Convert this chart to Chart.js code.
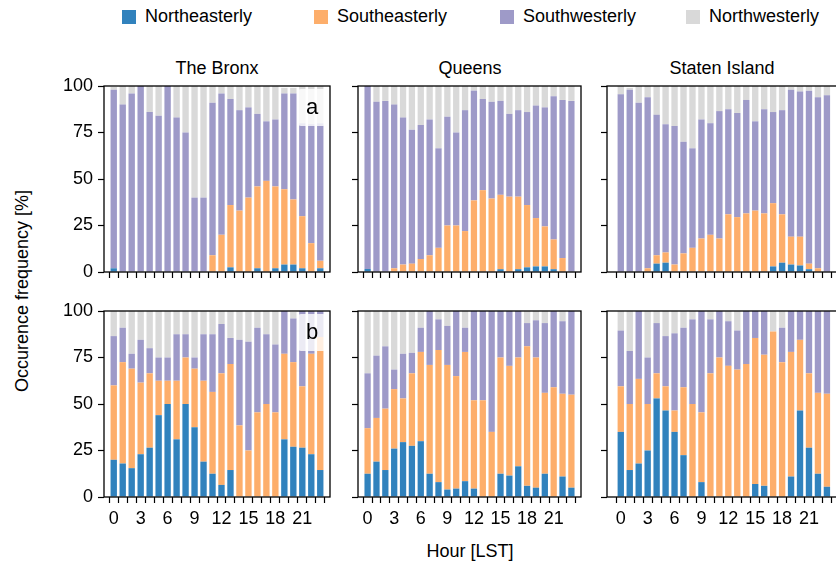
<!DOCTYPE html>
<html>
<head>
<meta charset="utf-8">
<script src="https://cdn.jsdelivr.net/npm/chart.js@4"></script>
<style>
  html, body { margin: 0; padding: 0; background: #fff; overflow: hidden; }
  #wrap { position: relative; width: 836px; height: 571px; overflow: hidden;
          font-family: "Liberation Sans", Arial, sans-serif; font-size: 18px; color: #000; }
  #wrap canvas { position: absolute; }
  .leg { position: absolute; top: 6px; display: flex; align-items: center; white-space: nowrap; }
  .sw { display: inline-block; width: 14px; height: 14px; margin-right: 9px; }
  .ttl { position: absolute; top: 58px; transform: translateX(-50%); white-space: nowrap; }
  .tag { position: absolute; width: 28px; height: 37px; background: rgba(255,255,255,0.8);
         border-radius: 3px; font-size: 22px; line-height: 36px; text-align: center; z-index: 2; }
</style>
</head>
<body>
<div id="wrap">
  <div class="leg" style="left:122px"><span class="sw" style="background:#3182bd"></span>Northeasterly</div>
  <div class="leg" style="left:314px"><span class="sw" style="background:#fdae6b"></span>Southeasterly</div>
  <div class="leg" style="left:500px"><span class="sw" style="background:#9e9ac8"></span>Southwesterly</div>
  <div class="leg" style="left:686px"><span class="sw" style="background:#d9d9d9"></span>Northwesterly</div>

  <div class="ttl" style="left:217px">The Bronx</div>
  <div class="ttl" style="left:470px">Queens</div>
  <div class="ttl" style="left:722px">Staten Island</div>

  <div class="tag" style="left:298px; top:89px">a</div>
  <div class="tag" style="left:298px; top:314px">b</div>

  <div style="position:absolute; left:22px; top:291px; transform:translate(-50%,-50%) rotate(-90deg); white-space:nowrap;">Occurence frequency [%]</div>
  <div style="position:absolute; left:470px; top:541px; transform:translateX(-50%); white-space:nowrap;">Hour [LST]</div>
</div>
<script>
// ===== Data =====
const hours = [0,1,2,3,4,5,6,7,8,9,10,11,12,13,14,15,16,17,18,19,20,21,22,23];
const yTicks = [0, 25, 50, 75, 100];
const hourLabelStep = 3;

// The Bronx (a = top row, b = bottom row)
const bronxA_NE = [2,0,0,0,0,0,0,0,0,0,0,0,0,2.5,0,0,2,0,2,4,4,2,0,2];
const bronxA_SE = [0,0,0,0,0,0,0,0,0,0,0,9,20,33.5,33,40,44,49,44,40.5,35,28,15.5,4];
const bronxA_SW = [96,90,96,100,86,84,100,83,75,40,40,82,76,57,54,48.5,39,32,36,51.5,57,50,64,74];
const bronxA_NW = [1.5,10,4,0,14,16,0,17,25,60,60,9,4,7,13,11.5,15,19,18,3,3,20,20.5,20];

const bronxB_NE = [20,18,15.5,23,26.5,44,50,31,50,37.5,19,12.5,6.5,14.5,0,0,0,0,0,31,27,26.5,23,14.5];
const bronxB_SE = [40,54.5,53.5,38.5,40,18.5,12.5,31.5,25,31.5,43.5,44,60,57,38.5,25,45.5,50,45.5,46,45.5,33,54,71.5];
const bronxB_SW = [26.5,18.5,8,23,13.5,12.5,12.5,25,12.5,6,25,31,26.5,14,46,58.5,45.5,37.5,36.5,23,23.5,40.5,23,14];
const bronxB_NW = [13.5,9,23,15.5,20,25,25,12.5,12.5,25,12.5,12.5,7,14.5,15.5,16.5,9,12.5,18,0,3.5,0,0,0];

// Queens
const queensA_NE = [1.6,0,0,0,0,0,0,0,0,0,0,0,0,0,0,1.5,0,1.5,2.5,3,3,1.5,0,0];
const queensA_SE = [0,0,0,2,4,4.5,7,9,13,25,25,22,38.5,44,39.5,40,40.5,39,33.5,26,21.5,16,7.5,0];
const queensA_SW = [98.4,91.5,92,88,79,72,72,73,53.5,58.5,50,65,59,49,52,50.5,44.5,46.5,50,60.5,64,77,85,92];
const queensA_NW = [0,8.5,8,10,17,23.5,21,18,33.5,16.5,25,13,2.5,7,8.5,8,15,13,14,10.5,11.5,5.5,7.5,8];

const queensB_NE = [12.5,19,14.5,26,29.5,27.5,30,12.5,8,4,4.5,8.5,4.5,0,0,12.5,11.5,16.5,6,5,12.5,0,11,5];
const queensB_SE = [24.5,23.5,33,32,23.5,39,48,58.5,71,67,60.5,69.5,47.5,52,35,62.5,59,58.5,75,70,43.5,59,44.5,50];
const queensB_SW = [29.5,33.5,33.5,10.5,24,11,13,29,16.5,21,35,13,48,48,65,25,29.5,25,12.5,20,37.5,41,39,45];
const queensB_NW = [33.5,24,19,31.5,23,22.5,9,0,4.5,8,0,9,0,0,0,0,0,0,6.5,5,6.5,0,5.5,0];

// Staten Island
const statenA_NE = [0,0,0,0,4.5,5,0,0,0,0,0,0,0,0,0,0,0,3,5,4,3.5,1.5,0,0];
const statenA_SE = [0,0,0,2,4.5,5.5,4,10,13,18,20,18,31,29.5,31.5,33,31.5,34,26,15,15.5,3,2,0];
const statenA_SW = [95.5,98,91,92,75.5,69,74.5,60,53.5,64,60,68.5,56.5,56,61,48,56,49,56,79,78,93,92,95];
const statenA_NW = [4.5,1,9,6,15.5,20.5,21.5,30,33.5,18,20,13.5,12.5,14.5,7.5,19,12.5,14,13,1.5,3,2.5,6,5];

const statenB_NE = [35,14.5,18,25,53,46.5,35,22.5,0,8,0,0,0,0,0,7,6,0,0,11,46.5,26.5,12.5,5.5];
const statenB_SE = [24.5,35.5,45.5,25,13.5,13,11.5,36.5,50,37.5,66.5,75,70.5,68.5,71.5,78.5,70.5,89,72.5,67,38,40,43.5,50];
const statenB_SW = [30,28.5,36.5,25,27,27,41.5,32,45.5,54.5,29,25,24,21,28.5,14.5,23.5,0,18.5,22,15.5,33.5,44,44.5];
const statenB_NW = [10.5,21.5,0,25,6.5,13.5,12,9,4.5,0,4.5,0,5.5,10.5,0,0,0,11,9,0,0,0,0,0];

const seriesNames = ['Northeasterly', 'Southeasterly', 'Southwesterly', 'Northwesterly'];
const colors = ['#3182bd', '#fdae6b', '#9e9ac8', '#d9d9d9'];

// ===== Layout =====
const rowTop = [86, 311];
const rowBottom = [272, 497];
const colLeft = [104, 358, 607];
const colRight = [330, 581, 838];
const colMin = [-0.56, -0.56, -1];
const colMax = [23.56, 23.56, 23.7];
const Y_W = 60, X_H = 34, PAD_T = 20, PAD_R = 8;

const panels = [
  { row: 0, col: 0, data: [bronxA_NE, bronxA_SE, bronxA_SW, bronxA_NW] },
  { row: 0, col: 1, data: [queensA_NE, queensA_SE, queensA_SW, queensA_NW] },
  { row: 0, col: 2, data: [statenA_NE, statenA_SE, statenA_SW, statenA_NW] },
  { row: 1, col: 0, data: [bronxB_NE, bronxB_SE, bronxB_SW, bronxB_NW] },
  { row: 1, col: 1, data: [queensB_NE, queensB_SE, queensB_SW, queensB_NW] },
  { row: 1, col: 2, data: [statenB_NE, statenB_SE, statenB_SW, statenB_NW] }
];

// box round the plot area, drawn over the bars like the spines
const frame = {
  id: 'frame',
  afterDatasetsDraw(chart) {
    const { ctx, chartArea: a } = chart;
    ctx.save();
    ctx.strokeStyle = '#000';
    ctx.lineWidth = 1.3;
    ctx.strokeRect(a.left, a.top, a.right - a.left, a.bottom - a.top);
    ctx.restore();
  }
};

Chart.defaults.font.family = '"Liberation Sans", Arial, sans-serif';
Chart.defaults.font.size = 18;
Chart.defaults.color = '#000';

const wrap = document.getElementById('wrap');

panels.forEach(p => {
  const L = colLeft[p.col], R = colRight[p.col];
  const T = rowTop[p.row], B = rowBottom[p.row];
  const w = R - L + Y_W + PAD_R, h = B - T + PAD_T + X_H;
  const cv = document.createElement('canvas');
  cv.width = w; cv.height = h;
  cv.style.left = (L - Y_W) + 'px';
  cv.style.top = (T - PAD_T) + 'px';
  cv.style.width = w + 'px';
  cv.style.height = h + 'px';
  wrap.appendChild(cv);

  const showY = p.col === 0;
  const showX = p.row === 1;

  new Chart(cv.getContext('2d'), {
    type: 'bar',
    data: {
      labels: hours,
      datasets: p.data.map((vals, i) => ({
        label: seriesNames[i],
        data: vals,
        backgroundColor: colors[i],
        borderWidth: 0,
        barPercentage: 0.71,
        categoryPercentage: 1.0
      }))
    },
    options: {
      responsive: false,
      animation: false,
      devicePixelRatio: 1,
      layout: { padding: { top: PAD_T, right: PAD_R, left: 0, bottom: 0 } },
      plugins: { legend: { display: false }, tooltip: { enabled: false } },
      scales: {
        x: {
          type: 'linear',
          stacked: true,
          min: colMin[p.col],
          max: colMax[p.col],
          afterFit: s => { s.height = X_H; },
          afterBuildTicks: s => { s.ticks = s.ticks.filter(t => t.value >= 0 && t.value <= 23); },
          grid: { drawOnChartArea: false, drawTicks: true, tickLength: 6, tickColor: '#000', tickWidth: 1.2 },
          border: { display: false },
          ticks: {
            stepSize: 1,
            includeBounds: false,
            autoSkip: false,
            maxRotation: 0,
            padding: 5,
            callback: v => (showX && v % hourLabelStep === 0) ? String(v) : ''
          }
        },
        y: {
          stacked: true,
          min: yTicks[0],
          max: yTicks[yTicks.length - 1],
          afterFit: s => { s.width = Y_W; },
          grid: { drawOnChartArea: false, drawTicks: true, tickLength: 6, tickColor: '#000', tickWidth: 1.2 },
          border: { display: false },
          ticks: {
            stepSize: yTicks[1] - yTicks[0],
            autoSkip: false,
            padding: 5,
            callback: v => showY ? String(v) : ''
          }
        }
      }
    },
    plugins: [frame]
  });
});
</script>
</body>
</html>
